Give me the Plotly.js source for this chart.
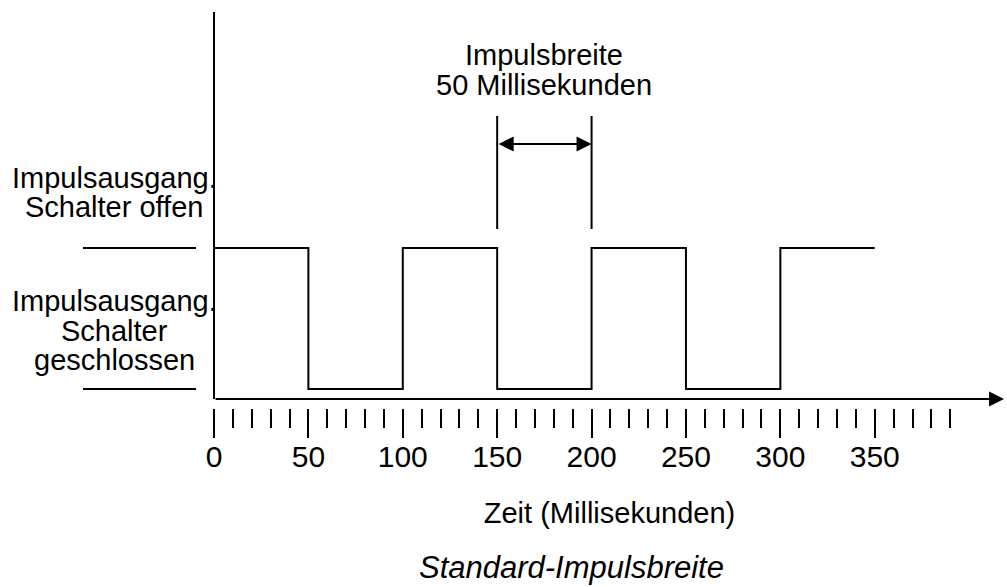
<!DOCTYPE html>
<html>
<head>
<meta charset="utf-8">
<script src="https://cdn.plot.ly/plotly-3.0.1.min.js"></script>
<style>html,body{margin:0;padding:0;background:#fff;}#chart{width:1007px;height:587px;}</style>
</head>
<body>
<div id="chart"></div>
<script>
// ---- data ----
const edgeTimes = [0, 50, 100, 150, 200, 250, 300, 350];
const levels = [1, 0, 1, 0, 1, 0, 1, 1];           // 1 = Schalter offen, 0 = Schalter geschlossen
const majorTickVals = [0, 50, 100, 150, 200, 250, 300, 350];
const majorTickText = ['0', '50', '100', '150', '200', '250', '300', '350'];
const minorTickVals = [0,10,20,30,40,50,60,70,80,90,100,110,120,130,140,150,160,170,180,190,200,210,220,230,240,250,260,270,280,290,300,310,320,330,340,350,360,370,380,390];
const openLabelLines = ['Impulsausgang.', 'Schalter offen'];
const closedLabelLines = ['Impulsausgang.', 'Schalter', 'geschlossen'];
const widthLabelLines = ['Impulsbreite', '50 Millisekunden'];
const pulseStart = 150;
const pulseEnd = 200;
const HIGH = 1, LOW = 0;
const xTitle = 'Zeit (Millisekunden)';
const chartTitle = 'Standard-Impulsbreite';

// ---- layout geometry ----
const FONT = 'Liberation Sans, Arial, sans-serif';
const XMAX = 419;
const YMIN = -0.1348, YMAX = 2.674;
const AXIS_Y = -0.0709;
const PLOT_TOP = 12, PLOT_BOTTOM = 408, PLOT_H = 396;
const py = p => (PLOT_BOTTOM - p) / PLOT_H;   // pixel row -> paper y
const LINE = {color: '#000', width: 2};

const annotations = [];
// left level labels
const openRows = [177.5, 207];
openLabelLines.forEach((t, i) => annotations.push({text: t, xref: 'paper', yref: 'paper', x: -0.1264, y: py(openRows[i]), xanchor: 'center', yanchor: 'middle', showarrow: false, font: {family: FONT, size: 29, color: '#000'}}));
const closedRows = [301, 331, 360];
closedLabelLines.forEach((t, i) => annotations.push({text: t, xref: 'paper', yref: 'paper', x: -0.1264, y: py(closedRows[i]), xanchor: 'center', yanchor: 'middle', showarrow: false, font: {family: FONT, size: 29, color: '#000'}}));
// pulse width label
const widthRows = [55, 85];
widthLabelLines.forEach((t, i) => annotations.push({text: t, xref: 'x', yref: 'paper', x: (pulseStart + pulseEnd) / 2, y: py(widthRows[i]), xanchor: 'center', yanchor: 'middle', showarrow: false, font: {family: FONT, size: 29, color: '#000'}}));
// double arrow
annotations.push({text: '', xref: 'x', yref: 'paper', x: pulseEnd, y: py(144), axref: 'x', ayref: 'pixel', ax: pulseStart, ay: 0,
  showarrow: true, arrowside: 'end+start', arrowhead: 2, startarrowhead: 2, arrowsize: 1.5, startarrowsize: 1.5, arrowwidth: 2, arrowcolor: '#000'});
// x axis line with arrow
annotations.push({text: '', xref: 'x', yref: 'y', x: XMAX - 0.5, y: AXIS_Y, axref: 'x', ayref: 'y', ax: 0, ay: AXIS_Y,
  showarrow: true, arrowhead: 2, arrowsize: 1.5, arrowwidth: 2, arrowcolor: '#000'});

const shapes = [
  // y axis
  {type: 'line', xref: 'paper', yref: 'paper', x0: 0, x1: 0, y0: py(399), y1: 1, line: LINE},
  // level marks on the left
  {type: 'line', xref: 'paper', yref: 'y', x0: -0.1656, x1: -0.0228, y0: HIGH, y1: HIGH, line: LINE},
  {type: 'line', xref: 'paper', yref: 'y', x0: -0.1656, x1: -0.0228, y0: LOW, y1: LOW, line: LINE},
  // pulse width markers
  {type: 'line', xref: 'x', yref: 'paper', x0: pulseStart, x1: pulseStart, y0: py(229), y1: py(116), line: LINE},
  {type: 'line', xref: 'x', yref: 'paper', x0: pulseEnd, x1: pulseEnd, y0: py(229), y1: py(116), line: LINE}
];

const trace = {
  x: edgeTimes, y: levels, type: 'scatter', mode: 'lines',
  line: {shape: 'hv', color: '#000', width: 2}, hoverinfo: 'skip', cliponaxis: false
};

const layout = {
  width: 1007, height: 587,
  margin: {l: 214, r: 2, t: PLOT_TOP, b: 587 - PLOT_BOTTOM, pad: 0},
  paper_bgcolor: '#fff', plot_bgcolor: '#fff',
  showlegend: false,
  font: {family: FONT, color: '#000'},
  title: {text: chartTitle, xref: 'container', yref: 'container', x: 0.5675, y: 0.033, xanchor: 'center', yanchor: 'middle',
    font: {family: FONT, size: 31, style: 'italic', color: '#000'}},
  xaxis: {
    range: [0, XMAX], showgrid: false, zeroline: false, showline: false,
    tickmode: 'array', tickvals: majorTickVals, ticktext: majorTickText,
    ticks: 'outside', ticklen: 29, tickwidth: 2, tickcolor: '#000',
    ticklabelstandoff: -7,
    tickfont: {family: FONT, size: 30, color: '#000'},
    minor: {tickmode: 'array', tickvals: minorTickVals, ticks: 'outside', ticklen: 19, tickwidth: 2, tickcolor: '#000', showgrid: false},
    title: {text: xTitle, font: {family: FONT, size: 29, color: '#000'}, standoff: 30},
    fixedrange: true
  },
  yaxis: {range: [YMIN, YMAX], showgrid: false, zeroline: false, showline: false, showticklabels: false, ticks: '', fixedrange: true},
  shapes: shapes,
  annotations: annotations
};

Plotly.newPlot('chart', [trace], layout, {staticPlot: true, displayModeBar: false});
</script>
</body>
</html>
